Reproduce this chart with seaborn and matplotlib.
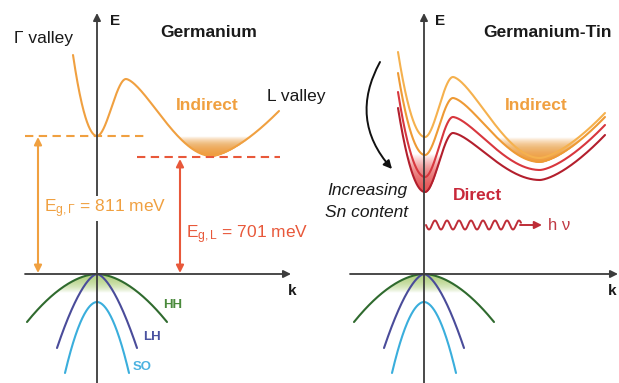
import numpy as np
import pandas as pd
import matplotlib
matplotlib.use("Agg")
import matplotlib.pyplot as plt
import seaborn as sns
from matplotlib.patches import FancyArrowPatch

# ---------------- data (key points read from the schematic, pixel units) -------------
# conduction band of Ge: start, Gamma minimum, barrier peak, L minimum, end
ge_cb_x = [73, 97, 126, 212, 279]
ge_cb_y = [55, 136, 79, 156, 111]

# conduction bands of GeSn for increasing Sn content
gesn_cb_x = [398, 425, 453, 540, 605]
gesn_cb1_y = [52, 137, 77, 158, 113]
gesn_cb2_y = [73, 155, 98, 162, 117]
gesn_cb3_y = [92, 177, 117, 170, 125]
gesn_cb4_y = [108, 192, 133, 180, 135]

# valence bands: half width, depth at the ends, top offset
band_names = ["HH", "LH", "SO"]
vb_half_width = [70, 40, 32]
vb_depth = [48, 74, 71]
vb_top_offset = [0, 0, 28]

vb_top = 274              # valence band maximum (k axis)
ge_gamma_x = 97           # k = 0 of the Ge panel
gesn_gamma_x = 424        # k = 0 of the GeSn panel
ge_gamma_level = 136      # dashed line, Gamma minimum
ge_l_level = 157          # dashed line, L minimum

gap_labels = ["E$_{\\mathrm{g,Γ}}$ = 811 meV", "E$_{\\mathrm{g,L}}$ = 701 meV"]

# ---------------- style -------------
sns.set_theme(style="white")
plt.rcParams["font.family"] = ["Liberation Sans", "DejaVu Sans"]
plt.rcParams["mathtext.fontset"] = "custom"
plt.rcParams["mathtext.rm"] = "Liberation Sans"
plt.rcParams["mathtext.it"] = "Liberation Sans:italic"
plt.rcParams["mathtext.bf"] = "Liberation Sans:bold"

ORANGE = "#F0A040"
ORANGE_L = "#F5B14E"
ORANGE_D = "#EE9A35"
RED_DASH = "#E8583A"
RED = "#D8373E"
DARK_RED = "#B31F2D"
DIRECT_RED = "#C8283A"
AX = "#3C3C3C"
HH_C = "#2F6A2E"
LH_C = "#4A4C9A"
SO_C = "#3AAEDC"
GREEN_FILL = "#A6CC6A"

fig = plt.figure(figsize=(6.19, 3.83), dpi=100)
ax = fig.add_axes([0, 0, 1, 1])
ax.set_xlim(0, 619)
ax.set_ylim(383, 0)
ax.axis("off")


def cb_curve(xk, yk, n=80):
    xs0, xg, xp, xl, xe = xk
    ys0, yg, yp, yl, ye = yk
    X, Y = [], []
    t = np.linspace(0, 1, n)
    X.append(xs0 + (xg - xs0) * t); Y.append(yg + (ys0 - yg) * (1 - t) ** 2)
    s = 3 * t ** 2 - 2 * t ** 3
    X.append(xg + (xp - xg) * t); Y.append(yg + (yp - yg) * s)
    u = t ** 0.8
    s = 3 * u ** 2 - 2 * u ** 3
    X.append(xp + (xl - xp) * t); Y.append(yp + (yl - yp) * s)
    X.append(xl + (xe - xl) * t); Y.append(yl + (ye - yl) * t ** 1.5)
    return np.concatenate(X), np.concatenate(Y)


def vb_curve(x0, hw, depth, off, p, n=160):
    x = np.linspace(-hw, hw, n)
    y = vb_top + off + depth * (np.abs(x) / hw) ** p
    return x0 + x, y


def draw(x, y, color, lw=1.5, z=3):
    df = pd.DataFrame({"x": x, "y": y})
    sns.lineplot(data=df, x="x", y="y", ax=ax, color=color, lw=lw, sort=False,
                 estimator=None, zorder=z)


def grad_fill(x, y, levels, color, alpha, below_curve=True):
    # below_curve=True: region between a level and the curve lying further down
    for lv in levels:
        if below_curve:
            w = y > lv
            ax.fill_between(x, lv, y, where=w, interpolate=True, color=color,
                            alpha=alpha, lw=0, zorder=1)
        else:
            w = y < lv
            ax.fill_between(x, y, lv, where=w, interpolate=True, color=color,
                            alpha=alpha, lw=0, zorder=1)


vb_exp = [1.8, 1.6, 1.9]
vb_cols = [HH_C, LH_C, SO_C]

# ---------------- Germanium panel -------------
x, y = cb_curve(ge_cb_x, ge_cb_y)
m = (x > 150) & (x < 260)
grad_fill(x[m], y[m], np.linspace(ge_gamma_level, ge_cb_y[3] - 1, 40), ORANGE_D, 0.06)
draw(x, y, ORANGE)

for i in range(3):
    vx, vy = vb_curve(ge_gamma_x, vb_half_width[i], vb_depth[i], vb_top_offset[i], vb_exp[i])
    if i == 0:
        grad_fill(vx, vy, np.linspace(vb_top + 2, vb_top + 18, 20), GREEN_FILL, 0.075,
                  below_curve=False)
    draw(vx, vy, vb_cols[i])

ax.plot([25, 145], [ge_gamma_level] * 2, color=ORANGE, lw=1.5, ls=(0, (4, 2.6)), zorder=3)
ax.plot([137, 280], [ge_l_level] * 2, color=RED_DASH, lw=1.5, ls=(0, (4, 2.6)), zorder=3)

for (x0, y0, x1, y1, c) in [(38, ge_gamma_level + 1, 38, vb_top - 1, ORANGE),
                            (180, ge_l_level + 2, 180, vb_top - 1, RED_DASH)]:
    ax.add_patch(FancyArrowPatch((x0, y0), (x1, y1), arrowstyle="<|-|>", mutation_scale=11,
                                 color=c, lw=1.5, shrinkA=0, shrinkB=0, zorder=3))

# axes
ax.add_patch(FancyArrowPatch((ge_gamma_x, 383), (ge_gamma_x, 13), arrowstyle="-|>",
                             mutation_scale=11, color=AX, lw=1.3, shrinkA=0, shrinkB=0, zorder=4))
ax.add_patch(FancyArrowPatch((25, vb_top), (291, vb_top), arrowstyle="-|>",
                             mutation_scale=11, color=AX, lw=1.3, shrinkA=0, shrinkB=0, zorder=4))

ax.text(110, 25, "E", fontsize=11, fontweight="bold", color="#1a1a1a", va="baseline")
ax.text(160, 37, "Germanium", fontsize=12.5, fontweight="bold", color="#1a1a1a", va="baseline")
ax.text(14, 43, "Γ valley", fontsize=12.5, color="#1a1a1a", va="baseline")
ax.text(267, 101, "L valley", fontsize=12.5, color="#1a1a1a", va="baseline")
ax.text(176, 110, "Indirect", fontsize=12.5, fontweight="bold", color=ORANGE, va="baseline")
ax.text(44, 212, gap_labels[0], fontsize=12.5, color=ORANGE, va="baseline", zorder=6,
        bbox=dict(facecolor="white", edgecolor="none", pad=1.0))
ax.text(186, 238, gap_labels[1], fontsize=12.5, color=RED_DASH, va="baseline", zorder=6)
ax.text(288, 295, "k", fontsize=11, fontweight="bold", color="#1a1a1a", va="baseline")
ax.text(163, 308, band_names[0], fontsize=9.5, fontweight="bold", color="#4A8A3C", va="baseline")
ax.text(143, 340, band_names[1], fontsize=9.5, fontweight="bold", color="#4A52A0", va="baseline")
ax.text(133, 370, band_names[2], fontsize=9.5, fontweight="bold", color="#4BB2E0", va="baseline")

# ---------------- Germanium-Tin panel -------------
curves = [(gesn_cb1_y, ORANGE_L), (gesn_cb2_y, ORANGE_D), (gesn_cb3_y, RED), (gesn_cb4_y, DARK_RED)]
x2, y2 = cb_curve(gesn_cb_x, gesn_cb2_y)
m = (x2 > 480) & (x2 < 600)
grad_fill(x2[m], y2[m], np.linspace(137, gesn_cb2_y[3] - 1, 40), ORANGE_D, 0.06)
x4, y4 = cb_curve(gesn_cb_x, gesn_cb4_y)
m = (x4 > 400) & (x4 < 450)
grad_fill(x4[m], y4[m], np.linspace(154, gesn_cb4_y[1] - 1, 40), "#E8383A", 0.045)
for yk, c in curves:
    xx, yy = cb_curve(gesn_cb_x, yk)
    draw(xx, yy, c)

for i in range(3):
    vx, vy = vb_curve(gesn_gamma_x, vb_half_width[i], vb_depth[i], vb_top_offset[i], vb_exp[i])
    if i == 0:
        grad_fill(vx, vy, np.linspace(vb_top + 2, vb_top + 18, 20), GREEN_FILL, 0.075,
                  below_curve=False)
    draw(vx, vy, vb_cols[i])

ax.add_patch(FancyArrowPatch((gesn_gamma_x, 383), (gesn_gamma_x, 13), arrowstyle="-|>",
                             mutation_scale=11, color=AX, lw=1.3, shrinkA=0, shrinkB=0, zorder=4))
ax.add_patch(FancyArrowPatch((350, vb_top), (618, vb_top), arrowstyle="-|>",
                             mutation_scale=11, color=AX, lw=1.3, shrinkA=0, shrinkB=0, zorder=4))

# curved arrow: increasing Sn content
ax.add_patch(FancyArrowPatch((380, 62), (392, 169), connectionstyle="arc3,rad=0.35",
                             arrowstyle="-|>", mutation_scale=12, color="#111111", lw=1.4,
                             shrinkA=0, shrinkB=0, zorder=4))

# photon
wx = np.linspace(426, 521, 400)
wy = 225 + 4.5 * np.sin(2 * np.pi * (wx - 426) / 12.0)
ax.plot(wx, wy, color="#BE2D37", lw=1.4, zorder=4)
ax.add_patch(FancyArrowPatch((520, 225), (542, 225), arrowstyle="-|>", mutation_scale=11,
                             color="#BE2D37", lw=1.4, shrinkA=0, shrinkB=0, zorder=4))
ax.text(548, 229.5, "h ν", fontsize=12, color="#C03A44", va="baseline")

ax.text(435, 25, "E", fontsize=11, fontweight="bold", color="#1a1a1a", va="baseline")
ax.text(483, 37, "Germanium-Tin", fontsize=12.5, fontweight="bold", color="#1a1a1a", va="baseline")
ax.text(505, 110, "Indirect", fontsize=12.5, fontweight="bold", color=ORANGE, va="baseline")
ax.text(453, 200, "Direct", fontsize=12.5, fontweight="bold", color=DIRECT_RED, va="baseline")
ax.text(327, 195, "Increasing", fontsize=12.5, style="italic", color="#1a1a1a", va="baseline")
ax.text(325, 217, "Sn content", fontsize=12.5, style="italic", color="#1a1a1a", va="baseline")
ax.text(608, 295, "k", fontsize=11, fontweight="bold", color="#1a1a1a", va="baseline")

fig.savefig("out.png", dpi=100)
